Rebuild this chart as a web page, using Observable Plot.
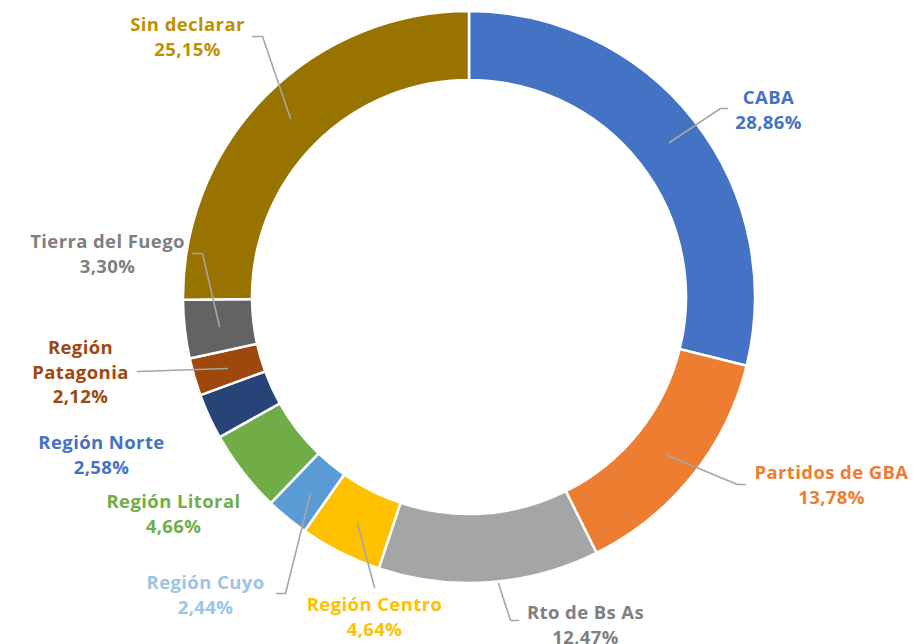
<!DOCTYPE html>
<html>
<head>
<meta charset="utf-8">
<script src="https://cdn.jsdelivr.net/npm/d3@7"></script>
<script src="https://cdn.jsdelivr.net/npm/@observablehq/plot@0.6"></script>
<style>
  html, body { margin: 0; padding: 0; background: #fff; }
  #chart svg { display: block; }
</style>
</head>
<body>
<div id="chart"></div>
<script>
// ---- data ----
const categories = ["CABA", "Partidos de GBA", "Rto de Bs As", "Región Centro", "Región Cuyo",
  "Región Litoral", "Región Norte", "Región Patagonia", "Tierra del Fuego", "Sin declarar"];
const values = [28.86, 13.78, 12.47, 4.64, 2.44, 4.66, 2.58, 2.12, 3.30, 25.15];
const valueLabels = ["28,86%", "13,78%", "12,47%", "4,64%", "2,44%", "4,66%", "2,58%", "2,12%", "3,30%", "25,15%"];
const sliceColors = ["#4472C4", "#ED7D31", "#A5A5A5", "#FFC000", "#5B9BD5", "#70AD47", "#264478", "#9E480E", "#636363", "#997300"];
const textColors = ["#4472C4", "#ED7D31", "#7F7F7F", "#FFC000", "#9DC3E6", "#70AD47", "#4472C4", "#9E480E", "#7F7F7F", "#BF9000"];

// ---- layout (pixel offsets from donut centre) ----
const W = 915, H = 644, CX = 469, CY = 297, R_OUT = 286, R_IN = 217;
const labelLayout = [
  {x: 768, y: 98, lines: ["CABA"]},
  {x: 831, y: 473, lines: ["Partidos de GBA"]},
  {x: 585, y: 613, lines: ["Rto de Bs As"]},
  {x: 374, y: 605, lines: ["Región Centro"]},
  {x: 205, y: 583, lines: ["Región Cuyo"]},
  {x: 173, y: 502, lines: ["Región Litoral"]},
  {x: 101, y: 443, lines: ["Región Norte"]},
  {x: 80, y: 348, lines: ["Región", "Patagonia"]},
  {x: 107, y: 242, lines: ["Tierra del Fuego"]},
  {x: 187, y: 25, lines: ["Sin declarar"]}
];
const leaderLayout = [
  [[669, 142], [720, 108], [727, 108]],
  [[667, 455], [737, 484], [745, 484]],
  [[498, 583], [510, 620], [518, 620]],
  [[357, 523], [374, 587]],
  [[310, 493], [285, 593], [276, 593]],
  [],
  [],
  [[137, 371], [227, 368]],
  [[192, 253], [202, 253], [219, 326]],
  [[252, 36], [262, 36], [290, 118]]
];
const LINE_H = 24.5;

// ---- derived tables ----
const table = categories.map((c, i) => ({name: c, value: values[i], color: sliceColors[i]}));
const pie = d3.pie().sort(null).value(d => d.value).startAngle(0).endAngle(2 * Math.PI)(table);

const textRows = [];
labelLayout.forEach((L, i) => {
  const all = [...L.lines, valueLabels[i]];
  all.forEach((t, k) => textRows.push({x: L.x - CX, y: L.y + k * LINE_H - CY, text: t, color: textColors[i]}));
});
const leaderRows = [];
leaderLayout.forEach((pts, i) => pts.forEach(p => leaderRows.push({x: p[0] - CX, y: p[1] - CY, id: i})));

const donutMark = (index, scales) => {
  const sx = scales && scales.x ? scales.x : (v => v + CX);
  const sy = scales && scales.y ? scales.y : (v => v + CY);
  const cx = sx(0), cy = sy(0);
  const ro = sx(R_OUT) - cx, ri = sx(R_IN) - cx;
  const arc = d3.arc().innerRadius(ri).outerRadius(ro);
  const g = d3.create("svg:g").attr("transform", `translate(${cx},${cy})`);
  g.selectAll("path").data(pie).join("path")
    .attr("d", arc)
    .attr("fill", d => d.data.color)
    .attr("stroke", "#fff")
    .attr("stroke-width", 2.5)
    .attr("stroke-linejoin", "miter");
  return g.node();
};

const chart = Plot.plot({
  width: W,
  height: H,
  margin: 0,
  x: {type: "linear", domain: [-CX, W - CX], range: [0, W], axis: null},
  y: {type: "linear", domain: [-CY, H - CY], range: [0, H], axis: null},
  style: {fontFamily: "'Open Sans', Lato, sans-serif", background: "#fff", letterSpacing: "0.4px"},
  marks: [
    donutMark,
    Plot.line(leaderRows, {x: "x", y: "y", z: "id", stroke: "#A6A6A6", strokeWidth: 1.6, curve: "linear"}),
    Plot.text(textRows, {x: "x", y: "y", text: "text", fill: d => d.color, fontSize: 18.5, fontWeight: 700, textAnchor: "middle", lineAnchor: "middle"})
  ]
});
document.getElementById("chart").appendChild(chart);
</script>
</body>
</html>
